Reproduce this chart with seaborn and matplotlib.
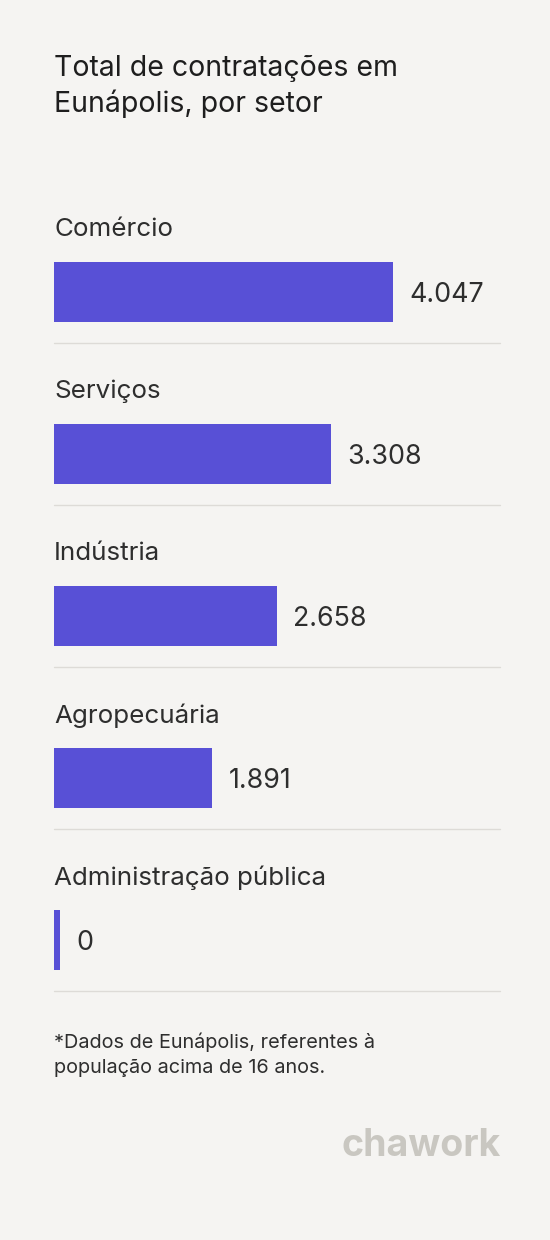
import matplotlib
matplotlib.use("Agg")
import matplotlib.pyplot as plt
import seaborn as sns
import pandas as pd

categories = ["Comércio", "Serviços", "Indústria", "Agropecuária", "Administração pública"]
values = [4047, 3308, 2658, 1891, 0]

sns.set_theme(style="white")
plt.rcParams['font.family'] = ['Inter', 'DejaVu Sans']

BG = "#f5f4f2"
BAR = "#5850d6"
W, H = 550, 1240
fig = plt.figure(figsize=(W/100, H/100), dpi=100, facecolor=BG)

left = 54 / W
width = (393 - 54) / W
top_px, bot_px = 211, 1021
ax = fig.add_axes([left, (H - bot_px) / H, width, (bot_px - top_px) / H])
ax.set_facecolor("none")

minw = 4047 * 6 / 339
df = pd.DataFrame({"cat": categories, "val": [max(v, minw) for v in values]})
sns.barplot(data=df, x="val", y="cat", orient="h", color=BAR, saturation=1,
            width=60/162, linewidth=0, edgecolor="none", ax=ax)
ax.set_xlim(0, 4047)
ax.set_ylim(4.5, -0.5)
ax.axis("off")

xmax_sep = 4047 * (500 - 54) / 339
for i, (c, v, dv) in enumerate(zip(categories, values, df["val"])):
    ax.text(0, i - 0.385, c, fontsize=18.7, color="#2e2e2e", va="center", ha="left", clip_on=False)
    ax.text(dv + 4047 * 16 / 339, i + 0.02, f"{v:,}".replace(",", "."), fontsize=19.3,
            color="#2e2e2e", va="center", ha="left", clip_on=False)
    ax.plot([0, xmax_sep], [i + 0.315, i + 0.315], color="#dddbd7", lw=1, clip_on=False)

fig.text(54 / W, 1 - 69 / H, "Total de contratações em", fontsize=20.5, color="#1e1e1e", va="center")
fig.text(54 / W, 1 - 104 / H, "Eunápolis, por setor", fontsize=20.5, color="#1e1e1e", va="center")
fig.text(54 / W, 1 - 1042 / H, "*Dados de Eunápolis, referentes à", fontsize=14.3, color="#2e2e2e", va="center")
fig.text(54 / W, 1 - 1068 / H, "população acima de 16 anos.", fontsize=14.3, color="#2e2e2e", va="center")
fig.text(501 / W, 1 - 1146 / H, "chawork", fontsize=27, fontweight="bold", color="#c9c7c1",
         va="center", ha="right")

fig.savefig("out.png", dpi=100, facecolor=BG)
